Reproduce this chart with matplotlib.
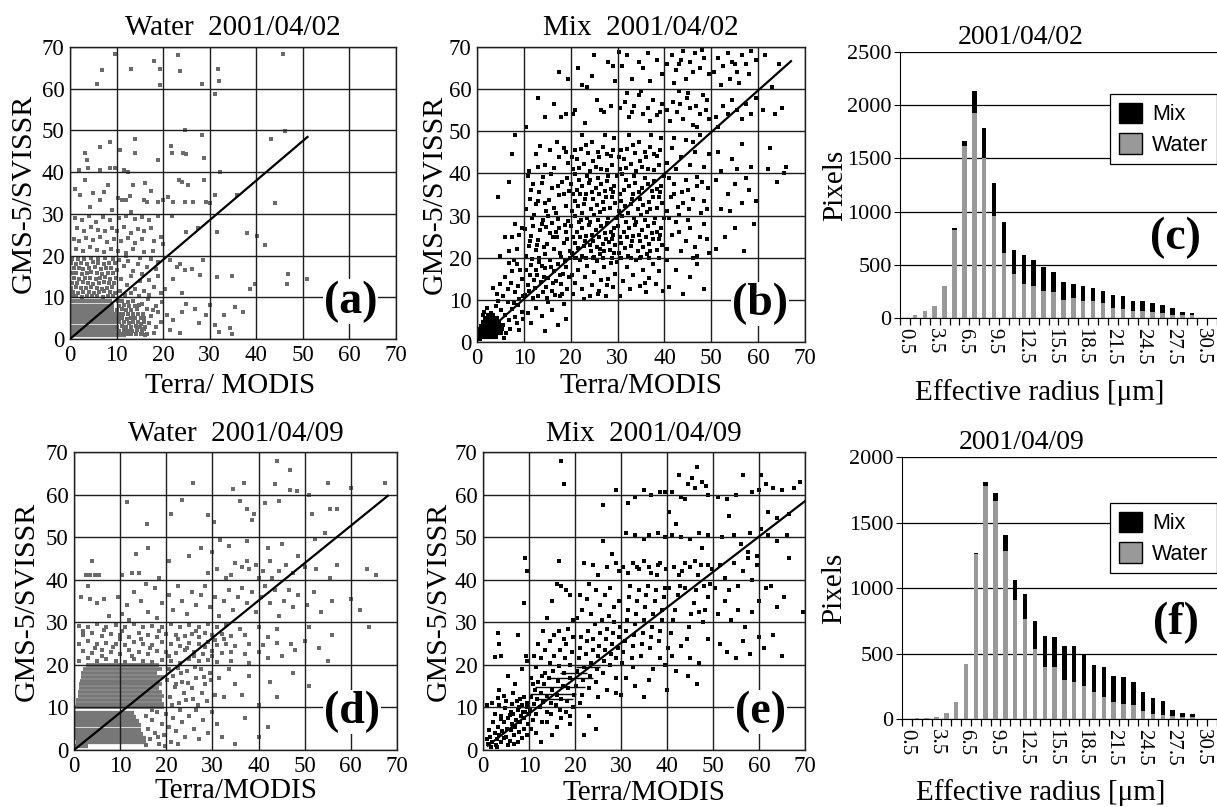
import matplotlib
matplotlib.use('Agg')
import matplotlib.pyplot as plt
import numpy as np
from matplotlib.patches import Patch

plt.rcParams['font.family'] = ['Liberation Serif', 'DejaVu Serif']

# ---------------- histogram data ----------------
radius = ['0.5', '1.5', '2.5', '3.5', '4.5', '5.5', '6.5', '7.5', '8.5', '9.5', '10.5', '11.5',
          '12.5', '13.5', '14.5', '15.5', '16.5', '17.5', '18.5', '19.5', '20.5', '21.5', '22.5',
          '23.5', '24.5', '25.5', '26.5', '27.5', '28.5', '29.5', '30.5', '31.5']
water_c = [0, 25, 63, 110, 300, 830, 1620, 1925, 1505, 958, 615, 410, 323, 305, 255, 245, 166,
           188, 157, 157, 141, 91, 88, 63, 63, 57, 47, 31, 25, 25, 0, 0]
mix_c = [0, 0, 0, 0, 0, 12, 40, 205, 285, 314, 290, 228, 274, 238, 225, 188, 170, 135, 141, 129,
         110, 126, 122, 97, 97, 84, 72, 63, 28, 25, 0, 0]
water_f = [0, 5, 5, 15, 46, 127, 420, 1257, 1781, 1662, 1280, 911, 766, 534, 397, 397, 300, 282,
           254, 206, 168, 127, 115, 107, 59, 41, 33, 20, 15, 15, 0, 0]
mix_f = [0, 0, 0, 0, 0, 0, 0, 10, 31, 63, 127, 147, 191, 212, 234, 229, 260, 278, 242, 206, 229,
         199, 203, 178, 147, 117, 102, 51, 33, 26, 0, 0]

# ---------------- regression lines (slope, intercept, x-start, x-end) ----------------
fit_a = (0.95, 0.0, 0.0, 51.0)
fit_b = (0.99, 0.3, 0.0, 67.0)
fit_d = (0.878, 0.0, 0.0, 68.0)
fit_e = (0.833, 0.17, 1.0, 70.0)

# ---------------- dense rows (y, x-from, x-to) ----------------
a_row_y = [1, 2, 3, 4, 5, 6, 7, 8, 9]
a_row_x0 = [0.2, 0, 0, 0, 0, 0, 0, 0, 0.3]
a_row_x1 = [12.0, 11.0, 10.5, 10.0, 10.0, 10.0, 9.5, 9.5, 9.0]

b_row_y = [1.2, 2.1, 3.0, 3.9, 4.8, 5.7, 6.5]
b_row_x0 = [0.3, 0.2, 0.3, 0.5, 0.8, 1.2, 2.0]
b_row_x1 = [4.5, 5.5, 5.8, 5.6, 5.2, 4.6, 3.8]

d_row_y = [0.9, 1.8, 2.8, 3.8, 4.8, 5.8, 6.8, 7.8, 8.8]
d_row_x0 = [0.2, 0.5, 0, 0, 0, 0, 0, 0, 0.2]
d_row_x1 = [3.0, 15.5, 15.5, 15.0, 14.5, 14.5, 14.0, 13.5, 13.0]
d_band_y = [10.0, 10.9, 11.8, 12.7, 13.6, 14.5, 15.4, 16.3, 17.2, 18.1, 19.0, 19.9]
d_band_x0 = [0.3, 0.5, 0.5, 0.8, 0.8, 1.0, 1.0, 1.2, 1.5, 1.5, 2.0, 2.5]
d_band_x1 = [19.5, 19.5, 19.0, 19.5, 19.0, 18.5, 19.0, 18.5, 19.5, 18.0, 19.0, 18.5]

e_row_y = [12.0, 13.1, 14.8, 16.9, 18.1, 19.4]
e_row_x0 = [11.5, 10.2, 11.2, 14.5, 16.7, 20.3]
e_row_x1 = [19.5, 20.3, 22.1, 23.9, 22.5, 25.4]

# ---------------- scatter points (Terra/MODIS, GMS-5/SVISSR) ----------------
a_pts = [
    (9.7, 68.4), (6.8, 64.4), (5.7, 61.1), (13.2, 64.8), (18.0, 66.6), (19.3, 64.8), (19.3, 60.8),
    (23.1, 68.0), (23.6, 64.2), (28.3, 61.1), (31.7, 64.8), (31.9, 61.9), (31.1, 58.8), (45.7, 68.4),
    (6.4, 46.0), (8.6, 47.2), (14.0, 48.0), (14.0, 44.6), (3.2, 44.6), (3.6, 43.0), (10.7, 45.3),
    (19.0, 43.0), (21.6, 46.2), (21.8, 44.6), (24.3, 44.6), (25.0, 44.4), (28.4, 48.8), (28.8, 43.3),
    (32.2, 40.0), (43.1, 48.0), (46.2, 49.8), (2.0, 40.5), (3.9, 40.9), (6.4, 40.6), (8.6, 40.9),
    (9.7, 40.9), (11.5, 40.5), (12.5, 40.1), (24.8, 50.2),
    (3.2, 38.1), (8.1, 37.0), (2.1, 34.5), (5.0, 34.9), (7.2, 35.3), (6.4, 33.4), (10.4, 33.7),
    (11.1, 33.3), (12.0, 33.3), (4.3, 31.7), (16.1, 37.4), (13.6, 37.0), (15.8, 33.3), (16.5, 32.9),
    (19.0, 32.9), (20.0, 33.3), (21.1, 34.1), (22.2, 32.9), (23.3, 38.1), (24.0, 37.7), (25.4, 36.9),
    (24.7, 32.9), (26.5, 32.9), (28.8, 38.1), (29.3, 32.9), (30.0, 32.5), (31.1, 34.5), (35.8, 34.5),
    (44.0, 32.6), (1.0, 36.0), (9.0, 31.0), (13.0, 30.5), (17.5, 35.5), (12.8, 34.2),
    (1.0, 29.0), (2.5, 28.5), (4.0, 29.5), (5.5, 28.0), (7.0, 29.2), (8.5, 28.5), (10.5, 29.0),
    (12.0, 29.5), (14.0, 28.8), (15.5, 29.3), (17.0, 28.5), (19.0, 29.5),
    (1.5, 26.5), (3.0, 26.0), (4.5, 26.8), (6.0, 26.2), (7.5, 25.8), (9.0, 26.5), (10.0, 26.0),
    (11.5, 26.8), (13.0, 25.5), (14.5, 26.3), (16.0, 25.9), (17.5, 26.6),
    (0.8, 24.0), (2.0, 23.5), (3.5, 24.3), (5.0, 23.8), (6.5, 24.5), (8.0, 23.2), (9.5, 24.0),
    (11.0, 23.6), (12.5, 24.2), (14.0, 23.0), (15.5, 24.0), (18.0, 23.5), (19.5, 24.5),
    (1.2, 21.5), (2.8, 21.0), (4.2, 22.0), (5.8, 21.3), (7.2, 20.8), (8.8, 21.7), (10.3, 21.0),
    (12.0, 20.6), (13.5, 21.5), (16.0, 20.8), (17.8, 21.2),
    (25.0, 25.7), (31.5, 25.7), (37.9, 25.3), (40.1, 24.7), (41.9, 22.5), (20.0, 22.9), (22.0, 29.5),
    (27.5, 26.5),
    (0.5, 19.3), (1.8, 19.3), (3.0, 19.1), (4.6, 19.4), (6.1, 19.2), (7.5, 19.5), (9.2, 19.3),
    (0.3, 18.2), (1.2, 18.0), (2.4, 18.3), (3.6, 18.1), (4.9, 18.4), (6.0, 18.2), (7.3, 18.0),
    (8.4, 18.3), (9.6, 18.2),
    (0.8, 17.0), (1.9, 17.1), (2.9, 16.9), (4.1, 17.0), (5.3, 17.2), (6.6, 16.8), (7.8, 17.0),
    (8.9, 17.1),
    (0.4, 15.8), (1.4, 15.9), (2.6, 15.7), (3.7, 15.8), (4.6, 16.0), (5.8, 15.8), (6.9, 15.6),
    (8.1, 15.9), (9.3, 15.8),
    (0.9, 14.6), (2.0, 14.5), (3.2, 14.7), (4.3, 14.6), (5.5, 14.4), (6.4, 14.6), (7.6, 14.8),
    (8.7, 14.5), (9.8, 14.6),
    (0.5, 13.5), (1.6, 13.4), (2.7, 13.6), (3.9, 13.5), (5.0, 13.3), (6.2, 13.5), (7.3, 13.7),
    (8.4, 13.5), (9.5, 13.4),
    (0.2, 12.3), (1.2, 12.4), (2.3, 12.2), (3.4, 12.3), (4.5, 12.5), (5.7, 12.3), (6.8, 12.1),
    (7.9, 12.3), (9.0, 12.4),
    (0.7, 11.2), (1.8, 11.1), (2.9, 11.3), (4.0, 11.2), (5.2, 11.0), (6.3, 11.2), (7.4, 11.4),
    (8.6, 11.2), (9.7, 11.1),
    (0.4, 10.2), (1.4, 10.3), (2.5, 10.1), (3.6, 10.2), (4.8, 10.4), (5.9, 10.2), (7.0, 10.0),
    (8.2, 10.2), (9.3, 10.3),
    (10.5, 19.0), (11.5, 17.5), (12.5, 18.8), (13.5, 16.2), (14.5, 18.0), (15.5, 15.5), (16.5, 17.2),
    (17.5, 19.2), (18.5, 16.8), (11.0, 14.5), (12.2, 13.0), (13.0, 15.0), (14.0, 12.0), (15.0, 13.8),
    (16.0, 11.5), (17.0, 14.2), (18.0, 12.5), (19.0, 15.0), (10.8, 11.5), (11.8, 10.5), (13.2, 11.0),
    (14.8, 10.3), (19.5, 11.0), (10.2, 16.5), (12.0, 19.8), (15.0, 19.5), (17.0, 10.5), (18.8, 18.5),
    (21.5, 18.9), (23.6, 18.1), (26.1, 16.9), (27.9, 15.3), (22.2, 14.5), (31.5, 14.9), (34.7, 15.1),
    (38.7, 12.1), (39.7, 13.3), (46.9, 15.7), (46.5, 13.3), (50.8, 14.5), (22.9, 17.3), (24.7, 16.5),
    (20.5, 12.0), (24.0, 11.0), (28.5, 19.0),
    (10.3, 9.0), (11.2, 9.1), (12.4, 8.9), (13.6, 9.0),
    (10.6, 8.0), (11.5, 8.1), (12.6, 7.9), (13.9, 8.0), (14.8, 8.1),
    (10.2, 7.0), (11.1, 7.1), (12.0, 6.9), (13.2, 7.0), (14.3, 7.1),
    (10.5, 6.0), (11.4, 6.1), (12.5, 5.9), (13.5, 6.0), (14.6, 6.1), (15.6, 6.0),
    (10.3, 5.0), (11.2, 5.1), (12.2, 4.9), (13.1, 5.0), (14.0, 5.1), (15.2, 5.0),
    (10.6, 4.0), (11.6, 4.1), (12.6, 3.9), (13.6, 4.0), (14.5, 4.1), (15.8, 4.0),
    (10.2, 3.0), (11.1, 3.1), (12.0, 2.9), (13.0, 3.0), (14.1, 3.1), (15.0, 3.0), (16.2, 2.9),
    (10.5, 2.0), (11.5, 2.1), (12.4, 1.9), (13.4, 2.0), (14.4, 2.1), (15.5, 2.0),
    (10.3, 1.2), (11.3, 1.3), (12.3, 1.1), (13.2, 1.2), (14.2, 1.3), (15.3, 1.2), (16.5, 1.1),
    (15.5, 8.5), (16.5, 7.2), (17.5, 5.5), (18.5, 8.0), (19.5, 4.0), (16.0, 2.5), (17.0, 3.8),
    (18.0, 1.5), (19.0, 6.5), (16.8, 9.5), (15.8, 5.0), (17.8, 7.0), (18.5, 2.8), (19.8, 8.8),
    (16.2, 1.0), (15.2, 3.5),
    (20.8, 5.7), (22.2, 4.5), (24.0, 6.5), (25.0, 8.5), (26.8, 7.3), (27.8, 3.8), (29.3, 5.7),
    (30.1, 8.1), (31.1, 3.4), (31.9, 1.8), (33.0, 5.7), (34.4, 2.6), (35.4, 7.7), (37.2, 6.5),
    (34.7, 1.1), (23.6, 1.4), (21.5, 2.2),
]

b_pts = [
    (5.5, 4.0), (6.0, 6.5), (6.8, 5.2), (7.5, 7.8), (5.2, 7.5), (4.0, 8.5), (3.0, 7.0), (8.2, 6.0),
    (8.8, 8.8), (9.5, 7.2), (6.5, 9.5), (2.2, 8.0), (7.0, 3.0), (8.5, 4.5), (9.8, 5.5), (4.5, 9.8),
    (1.5, 7.2), (6.2, 2.2), (9.0, 2.8), (7.8, 9.2), (0.6, 0.8), (1.2, 6.5), (3.5, 6.2), (5.8, 1.0),
    (5.5, 11.0), (6.5, 12.5), (7.2, 14.0), (8.0, 11.8), (8.8, 13.2), (9.5, 15.0), (6.0, 15.5),
    (7.5, 16.8), (8.5, 18.5), (9.2, 17.2), (5.0, 13.8), (4.2, 11.5), (9.8, 11.0), (6.8, 18.8),
    (3.5, 12.8), (7.8, 19.5), (9.0, 10.3),
    (6.0, 25.0), (7.5, 24.8), (8.5, 22.0), (9.5, 27.0), (6.8, 21.5), (9.0, 25.5), (8.0, 28.0),
    (5.0, 20.5), (4.5, 34.5), (6.8, 38.0), (8.0, 49.0), (7.5, 44.5),
    (11.5, 4.5), (12.5, 8.0), (13.8, 6.2), (14.5, 2.5), (16.0, 7.5), (17.2, 4.0), (18.5, 9.0),
    (19.0, 5.5), (15.2, 9.6), (10.8, 7.0),
    (10.3, 11.2), (10.8, 13.5), (11.2, 15.8), (11.6, 18.2), (12.0, 10.5), (12.4, 12.8), (12.8, 16.0),
    (13.2, 19.0), (13.6, 14.2), (14.0, 11.8), (14.4, 17.5), (14.8, 13.0), (15.2, 15.2), (15.6, 19.5),
    (16.0, 12.0), (16.4, 16.8), (16.8, 14.5), (17.2, 18.5), (17.6, 10.8), (18.0, 13.8), (18.4, 16.2),
    (18.8, 19.2), (19.2, 12.5), (19.6, 15.5), (10.5, 17.0), (11.8, 19.8), (13.0, 11.0), (14.2, 15.5),
    (15.8, 17.8), (16.6, 11.2), (17.8, 15.8), (19.0, 17.8), (12.2, 14.8), (18.2, 11.5), (13.8, 18.0),
    (15.0, 10.5), (11.0, 12.0), (16.2, 14.0), (19.8, 19.9), (12.6, 17.2),
    (10.5, 20.5), (11.0, 22.8), (11.5, 25.2), (12.0, 27.5), (12.5, 21.8), (13.0, 24.2), (13.5, 26.5),
    (14.0, 29.0), (14.5, 20.8), (15.0, 23.2), (15.5, 25.8), (16.0, 28.2), (16.5, 22.0), (17.0, 24.8),
    (17.5, 27.0), (18.0, 20.2), (18.5, 23.5), (19.0, 26.0), (19.5, 28.8), (10.2, 26.8), (11.8, 29.5),
    (13.2, 20.0), (14.8, 27.2), (16.2, 25.0), (17.8, 21.2), (19.2, 24.5), (12.8, 23.0), (15.2, 29.8),
    (18.8, 27.8), (11.3, 24.0), (16.8, 26.2), (14.2, 22.5), (19.8, 21.5), (13.8, 28.0), (17.2, 29.2),
    (10.5, 31.5), (11.2, 34.0), (11.9, 37.5), (12.6, 32.8), (13.3, 35.5), (14.0, 39.2), (14.7, 31.0),
    (15.4, 33.8), (16.1, 36.5), (16.8, 30.5), (17.5, 34.8), (18.2, 38.0), (18.9, 32.2), (19.6, 35.8),
    (10.8, 39.5), (12.2, 30.2), (13.8, 37.8), (15.8, 39.8), (17.2, 37.0), (19.2, 39.0), (11.5, 36.0),
    (14.5, 33.0), (16.5, 31.8), (18.5, 35.2), (13.0, 33.5),
    (11.0, 40.5), (12.5, 44.5), (13.5, 46.5), (14.5, 42.0), (15.5, 45.5), (16.5, 41.2), (17.5, 44.0),
    (18.5, 46.0), (19.5, 42.5), (13.0, 41.5), (17.0, 47.5), (19.0, 45.0),
    (13.0, 58.0), (14.5, 53.5), (16.5, 56.5), (18.0, 53.5), (19.5, 62.5), (17.5, 64.0), (10.5, 51.0),
    (19.0, 54.0),
    (20.5, 11.5), (21.0, 14.0), (21.5, 17.0), (22.0, 19.5), (22.5, 12.5), (23.0, 15.5), (23.5, 18.0),
    (24.0, 10.8), (24.5, 13.5), (25.0, 16.5), (25.5, 19.2), (26.0, 12.0), (26.5, 14.8), (27.0, 17.8),
    (27.5, 11.0), (28.0, 15.0), (28.5, 18.8), (29.0, 13.0), (29.5, 16.2), (20.8, 19.9), (22.8, 10.2),
    (24.8, 20.0), (26.8, 19.9), (28.8, 20.0), (21.2, 20.0), (23.2, 20.0), (25.8, 11.5), (27.8, 13.5),
    (29.8, 19.0), (20.2, 16.0),
    (20.3, 21.0), (20.8, 23.5), (21.3, 26.0), (21.8, 28.5), (22.3, 20.5), (22.8, 22.8), (23.3, 25.2),
    (23.8, 27.8), (24.3, 21.5), (24.8, 24.0), (25.3, 26.5), (25.8, 29.0), (26.3, 20.8), (26.8, 23.2),
    (27.3, 25.8), (27.8, 28.2), (28.3, 21.8), (28.8, 24.5), (29.3, 27.0), (29.8, 29.5), (20.5, 25.0),
    (21.5, 22.2), (22.5, 27.0), (23.5, 29.5), (24.5, 25.5), (25.5, 22.5), (26.5, 27.5), (27.5, 24.5),
    (28.5, 26.2), (29.5, 23.0), (21.0, 29.8), (23.0, 24.0), (25.0, 20.2), (27.0, 21.5), (29.0, 25.5),
    (22.0, 25.0), (24.0, 28.5), (26.0, 25.0), (28.0, 29.5), (20.0, 27.5), (22.2, 29.0), (24.2, 23.0),
    (26.2, 22.0), (28.2, 23.8), (29.2, 21.2),
    (20.3, 31.0), (20.8, 33.5), (21.3, 36.0), (21.8, 38.5), (22.3, 30.5), (22.8, 32.8), (23.3, 35.2),
    (23.8, 37.8), (24.3, 31.5), (24.8, 34.0), (25.3, 36.5), (25.8, 39.0), (26.3, 30.8), (26.8, 33.2),
    (27.3, 35.8), (27.8, 38.2), (28.3, 31.8), (28.8, 34.5), (29.3, 37.0), (29.8, 39.5), (20.5, 35.0),
    (21.5, 32.2), (22.5, 37.0), (23.5, 39.5), (24.5, 35.5), (25.5, 32.5), (26.5, 37.5), (27.5, 34.5),
    (28.5, 36.2), (29.5, 33.0), (21.0, 39.8), (23.0, 34.0), (25.0, 30.2), (27.0, 31.5), (29.0, 35.5),
    (22.0, 35.0), (24.0, 38.5), (26.0, 35.0), (28.0, 39.5), (20.0, 37.5),
    (20.5, 41.0), (21.3, 43.5), (22.1, 45.8), (22.9, 42.2), (23.7, 44.8), (24.5, 47.5), (25.3, 41.5),
    (26.1, 43.8), (26.9, 46.2), (27.7, 40.8), (28.5, 44.2), (29.3, 48.5), (20.8, 45.5), (22.5, 49.2),
    (24.0, 40.5), (25.8, 45.0), (27.2, 49.0), (28.8, 42.0), (21.8, 41.2), (23.2, 46.8), (26.5, 41.0),
    (29.0, 45.5), (24.8, 43.0), (27.8, 44.5), (20.2, 44.0),
    (21.0, 55.0), (22.5, 61.0), (23.5, 60.5), (24.5, 63.0), (25.5, 57.5), (26.5, 55.0), (28.0, 66.5),
    (29.0, 65.5), (20.5, 54.0), (23.0, 52.0), (27.0, 54.5), (29.5, 62.0), (21.5, 65.0), (25.0, 68.0),
    (28.5, 56.0),
    (30.5, 11.0), (31.2, 14.5), (31.9, 17.8), (32.6, 12.5), (33.3, 16.0), (34.0, 19.5), (34.7, 13.2),
    (35.4, 17.0), (36.1, 11.8), (36.8, 15.2), (37.5, 18.5), (38.2, 13.8), (38.9, 16.8), (39.6, 12.2),
    (30.8, 19.9), (32.8, 20.0), (34.8, 20.0), (36.8, 19.9), (38.8, 20.0), (35.8, 14.0),
    (30.3, 21.0), (30.8, 23.5), (31.3, 26.0), (31.8, 28.5), (32.3, 20.5), (32.8, 22.8), (33.3, 25.2),
    (33.8, 27.8), (34.3, 21.5), (34.8, 24.0), (35.3, 26.5), (35.8, 29.0), (36.3, 20.8), (36.8, 23.2),
    (37.3, 25.8), (37.8, 28.2), (38.3, 21.8), (38.8, 24.5), (39.3, 27.0), (39.8, 29.5), (30.5, 25.0),
    (31.5, 22.2), (32.5, 27.0), (33.5, 29.5), (34.5, 25.5), (35.5, 22.5), (36.5, 27.5), (37.5, 24.5),
    (38.5, 26.2), (39.5, 23.0), (31.0, 29.8), (33.0, 24.0), (35.0, 20.2), (37.0, 21.5), (39.0, 25.5),
    (32.0, 25.0), (34.0, 28.5), (36.0, 25.0), (38.0, 29.5), (30.0, 27.5),
    (30.3, 31.0), (30.8, 33.5), (31.3, 36.0), (31.8, 38.5), (32.3, 30.5), (32.8, 32.8), (33.3, 35.2),
    (33.8, 37.8), (34.3, 31.5), (34.8, 34.0), (35.3, 36.5), (35.8, 39.0), (36.3, 30.8), (36.8, 33.2),
    (37.3, 35.8), (37.8, 38.2), (38.3, 31.8), (38.8, 34.5), (39.3, 37.0), (39.8, 39.5), (30.5, 35.0),
    (31.5, 32.2), (32.5, 37.0), (33.5, 39.5), (34.5, 35.5), (35.5, 32.5), (36.5, 37.5), (37.5, 34.5),
    (38.5, 36.2), (39.5, 33.0), (31.0, 39.8), (33.0, 34.0), (35.0, 30.2), (37.0, 31.5), (39.0, 35.5),
    (30.5, 41.0), (31.3, 43.5), (32.1, 45.8), (32.9, 42.2), (33.7, 44.8), (34.5, 47.5), (35.3, 41.5),
    (36.1, 43.8), (36.9, 46.2), (37.7, 40.8), (38.5, 44.2), (39.3, 48.5), (30.8, 45.5), (32.5, 49.2),
    (34.0, 40.5), (35.8, 45.0), (37.2, 49.0), (38.8, 42.0), (31.8, 41.2), (33.2, 46.8), (36.5, 41.0),
    (39.0, 45.5), (34.8, 43.0), (37.8, 44.5), (30.2, 44.0),
    (30.5, 55.5), (31.5, 57.0), (32.5, 53.5), (33.5, 56.0), (34.5, 58.5), (35.5, 54.0), (36.5, 55.5),
    (37.5, 57.5), (38.5, 53.8), (39.5, 56.5), (32.0, 59.0), (35.0, 59.5), (37.0, 52.5), (39.0, 54.5),
    (33.0, 54.5),
    (31.0, 65.5), (33.0, 62.5), (34.5, 66.5), (35.5, 65.0), (36.5, 68.5), (37.0, 62.0), (38.5, 67.0),
    (39.5, 63.5), (32.0, 68.0), (30.2, 68.8),
    (41.0, 13.0), (42.5, 17.0), (44.0, 11.5), (45.5, 15.5), (47.0, 18.5), (48.5, 12.5), (40.5, 19.5),
    (46.0, 20.0),
    (40.5, 22.0), (41.5, 25.5), (42.5, 28.5), (43.5, 21.5), (44.5, 24.0), (45.5, 27.0), (46.5, 22.5),
    (47.5, 25.0), (48.5, 28.0), (49.5, 21.0), (41.0, 29.5), (43.0, 26.0), (45.0, 29.0), (47.0, 20.5),
    (49.0, 24.5),
    (40.5, 31.0), (41.3, 34.5), (42.1, 37.5), (42.9, 32.0), (43.7, 35.5), (44.5, 38.5), (45.3, 31.5),
    (46.1, 34.0), (46.9, 37.0), (47.7, 30.5), (48.5, 33.5), (49.3, 36.5), (41.0, 39.0), (43.0, 30.2),
    (45.0, 36.0), (47.0, 39.2), (49.0, 31.5), (44.0, 33.0), (48.0, 38.0), (42.0, 35.0),
    (40.5, 42.5), (41.5, 46.0), (42.5, 41.0), (43.5, 44.0), (44.5, 48.0), (45.5, 42.0), (46.5, 45.0),
    (47.5, 49.0), (48.5, 41.5), (49.5, 44.5), (42.0, 48.5), (46.0, 47.5),
    (40.5, 55.0), (41.2, 52.5), (41.9, 57.0), (42.6, 54.5), (43.3, 56.5), (44.0, 53.0), (44.7, 58.0),
    (45.4, 55.5), (46.1, 51.5), (46.8, 56.0), (47.5, 54.0), (48.2, 58.5), (48.9, 55.0), (49.6, 53.0),
    (43.0, 59.5), (45.0, 59.0), (47.0, 51.0), (49.0, 57.5),
    (40.5, 66.0), (41.5, 68.0), (42.5, 64.5), (43.5, 67.0), (44.5, 62.5), (45.5, 66.5), (46.5, 68.5),
    (47.5, 65.0), (48.5, 67.5), (49.5, 63.5), (42.0, 61.5), (44.0, 69.0), (46.0, 64.0), (48.0, 69.2),
    (43.0, 66.0),
    (51.0, 22.0), (53.0, 25.0), (55.0, 27.0), (57.0, 21.5), (59.0, 28.0), (52.0, 31.5), (53.5, 35.0),
    (55.0, 37.5), (56.5, 33.0), (58.0, 36.0), (51.0, 38.5), (54.0, 31.0), (57.5, 39.0), (59.5, 33.5),
    (52.0, 40.5), (54.5, 43.5), (56.5, 47.0), (58.5, 41.5), (51.5, 45.0), (55.5, 41.0), (51.0, 53.5),
    (52.5, 56.0), (53.5, 54.0), (54.5, 57.5), (55.5, 55.0), (56.5, 53.0), (57.5, 56.5), (58.5, 54.0),
    (59.5, 58.0), (51.5, 51.0), (50.5, 64.0), (51.5, 67.5), (52.5, 65.5), (53.5, 68.5), (54.5, 66.5),
    (55.5, 64.0), (56.5, 68.0), (57.5, 66.0), (58.5, 69.0), (59.5, 67.0), (52.0, 61.0), (54.0, 62.5),
    (56.0, 61.5), (58.0, 63.5), (55.0, 66.0),
    (61.0, 55.0), (63.5, 54.0), (65.0, 55.5), (62.0, 41.0), (64.0, 38.0), (66.0, 41.5), (63.0, 60.5),
    (64.5, 66.0), (61.5, 68.0), (65.5, 40.0), (62.5, 46.0),
]

d_pts = [
    (25.7, 62.8), (44.0, 67.8), (46.9, 65.8), (34.4, 61.3), (36.8, 62.7), (43.6, 62.6), (46.8, 61.0),
    (48.4, 60.8), (51.0, 60.0), (55.0, 62.7), (60.0, 61.5), (67.5, 62.8), (11.5, 58.3), (23.5, 58.8),
    (21.0, 55.5), (29.0, 55.3), (30.3, 53.5), (36.0, 58.5), (37.5, 56.5), (38.5, 54.0), (39.0, 55.5),
    (41.5, 58.0), (44.5, 58.5), (51.5, 55.5), (55.5, 56.5), (57.0, 56.5), (15.8, 53.0), (31.7, 49.3),
    (33.5, 48.0), (37.5, 49.0), (42.0, 47.5), (45.0, 48.5), (48.5, 45.5), (52.3, 49.5), (54.5, 51.0),
    (16.0, 47.5), (13.5, 46.0), (4.0, 44.5), (2.5, 41.2), (3.5, 41.2), (4.5, 41.2), (5.5, 41.0),
    (10.5, 41.0), (12.5, 41.5), (14.0, 41.5), (18.5, 40.5), (20.5, 44.5), (25.0, 45.5), (27.5, 47.5),
    (30.0, 46.5), (35.0, 44.0), (36.5, 43.0), (38.0, 42.5), (39.5, 43.5), (41.0, 42.0), (42.5, 44.5),
    (44.5, 42.0), (46.0, 43.5), (47.5, 41.5), (50.0, 43.0), (52.5, 42.5), (55.5, 40.5), (57.0, 43.5),
    (63.5, 42.5), (65.5, 41.0), (33.0, 40.5), (29.0, 41.5), (31.0, 42.5), (34.0, 41.0), (40.0, 40.5),
    (43.0, 40.5), (37.5, 44.5),
    (1.5, 36.0), (3.5, 35.5), (5.0, 34.5), (6.5, 35.5), (9.5, 36.0), (11.5, 34.0), (13.0, 37.0),
    (14.5, 35.0), (16.0, 32.5), (17.5, 38.0), (19.0, 34.5), (20.5, 36.5), (21.5, 33.0), (22.5, 38.5),
    (23.5, 35.0), (24.5, 32.0), (25.5, 37.0), (26.5, 34.0), (27.5, 36.5), (28.5, 38.5), (29.5, 33.5),
    (30.5, 36.0), (31.5, 31.5), (32.5, 35.0), (33.5, 37.5), (34.5, 33.0), (35.5, 36.0), (36.5, 38.0),
    (37.5, 34.5), (38.5, 37.0), (39.5, 32.5), (40.5, 36.0), (41.5, 38.5), (42.5, 34.5), (43.5, 37.5),
    (44.5, 31.5), (45.5, 35.0), (46.5, 37.5), (47.5, 33.5), (48.5, 36.5), (50.5, 34.0), (52.0, 37.0),
    (53.5, 32.5), (56.0, 35.0), (60.0, 35.5), (62.0, 33.0), (7.5, 31.5), (10.5, 32.0), (12.0, 30.5),
    (18.0, 31.0), (3.0, 38.5), (15.5, 39.0),
    (1.0, 29.2), (3.0, 29.0), (5.0, 29.5), (7.0, 28.8), (9.0, 29.3), (11.0, 29.0), (13.0, 29.5),
    (15.0, 28.8), (17.0, 29.2), (19.0, 29.0), (21.0, 29.5), (23.0, 28.8), (25.0, 29.3), (27.0, 29.0),
    (29.0, 29.5), (31.0, 29.0), (33.0, 29.3), (36.0, 28.5), (40.0, 29.0), (44.0, 28.5), (51.0, 29.0),
    (64.0, 29.0),
    (2.0, 27.0), (4.0, 27.5), (6.0, 26.8), (8.0, 27.3), (10.0, 27.0), (12.0, 26.5), (14.0, 27.5),
    (16.0, 27.0), (18.0, 26.6), (20.0, 27.3), (22.0, 27.0), (24.0, 26.8), (25.5, 27.3), (27.0, 26.5),
    (28.5, 27.5), (30.0, 27.0), (32.0, 27.2), (34.0, 26.8), (37.0, 27.0), (42.0, 26.5), (56.0, 27.0),
    (1.0, 25.0), (3.0, 25.5), (5.0, 24.8), (7.0, 25.2), (9.0, 25.0), (11.0, 24.6), (13.0, 25.4),
    (15.0, 25.0), (17.0, 24.7), (19.0, 25.3), (21.0, 25.0), (23.0, 24.5), (25.0, 25.2), (27.0, 24.8),
    (29.0, 25.3), (31.0, 24.7), (33.0, 25.0), (35.0, 24.5), (38.0, 25.0), (41.0, 24.6), (44.0, 25.2),
    (47.0, 24.8), (50.0, 25.5), (53.0, 24.0),
    (2.0, 23.2), (4.0, 22.8), (6.0, 23.5), (8.0, 23.0), (10.0, 22.6), (12.0, 23.4), (14.0, 23.0),
    (16.0, 22.5), (18.0, 23.3), (20.0, 23.0), (22.0, 22.7), (24.0, 23.5), (26.0, 23.0), (28.0, 22.6),
    (30.0, 23.2), (32.0, 22.8), (34.0, 23.0), (37.0, 22.5), (40.0, 23.0), (45.0, 22.0), (48.0, 23.5),
    (55.0, 21.0),
    (1.0, 21.0), (3.0, 21.5), (5.0, 20.8), (7.0, 21.3), (9.0, 21.0), (11.0, 20.6), (13.0, 21.4),
    (15.0, 21.0), (17.0, 20.7), (19.0, 21.2), (21.0, 21.0), (23.0, 20.5), (25.0, 21.3), (27.0, 20.8),
    (29.0, 21.2), (31.0, 20.6), (34.0, 21.0), (38.0, 20.5), (42.0, 21.5),
    (2.0, 28.0), (6.5, 28.2), (10.5, 28.0), (14.5, 26.0), (18.5, 28.0), (22.5, 26.0), (26.5, 28.0),
    (30.5, 25.8), (4.5, 24.0), (8.5, 24.2), (12.5, 22.0), (16.5, 24.0), (20.5, 22.2), (24.5, 24.0),
    (28.5, 24.2), (32.5, 26.0), (6.0, 22.0), (10.0, 26.0), (26.0, 22.0), (30.0, 22.0),
    (20.5, 19.0), (21.5, 17.5), (22.5, 19.3), (23.5, 16.0), (24.5, 18.5), (25.5, 14.5), (26.5, 17.0),
    (27.5, 19.0), (28.5, 15.5), (29.5, 18.0), (30.5, 13.0), (20.8, 12.5), (21.8, 14.8), (22.8, 11.0),
    (23.8, 13.5), (24.8, 15.8), (25.8, 12.0), (26.8, 10.5), (27.8, 13.5), (28.8, 11.5), (29.8, 16.5),
    (31.5, 17.0), (32.5, 12.5), (33.5, 19.0), (35.0, 15.5), (36.5, 13.0), (38.0, 17.5), (40.0, 10.5),
    (42.5, 16.0), (44.0, 12.5), (47.5, 18.0), (51.0, 15.0), (20.2, 16.5), (22.2, 15.5), (24.2, 11.8),
    (26.2, 19.5), (28.2, 17.2), (21.2, 10.5), (23.2, 18.0),
    (15.5, 8.0), (16.0, 5.0), (16.5, 2.5), (17.0, 7.0), (17.5, 4.0), (18.0, 9.0), (18.5, 1.5),
    (19.0, 6.0), (19.5, 3.5), (20.0, 8.5), (20.5, 5.5), (21.0, 2.0), (21.5, 7.5), (22.0, 4.5),
    (23.0, 9.5), (23.5, 6.5), (24.0, 3.0), (25.0, 8.0), (26.0, 5.0), (27.0, 2.5), (28.0, 7.0),
    (29.0, 4.0), (30.0, 9.0), (31.0, 6.0), (32.0, 3.0), (35.0, 1.5), (37.0, 7.5), (42.0, 5.5),
    (15.5, 1.2), (16.8, 9.5), (18.2, 3.0), (19.8, 1.0), (22.5, 1.5), (26.5, 9.5), (40.0, 3.0),
]

e_pts = [
    (1.0, 1.5), (1.5, 3.0), (2.0, 2.0), (2.5, 4.0), (3.0, 2.5), (3.2, 5.5), (3.5, 3.5), (4.0, 1.8),
    (4.2, 4.5), (4.5, 6.5), (5.0, 3.0), (5.2, 5.0), (5.5, 7.5), (5.8, 2.2), (6.0, 4.8), (6.2, 6.0),
    (6.5, 8.5), (6.8, 3.5), (7.0, 5.5), (7.2, 7.0), (7.5, 9.5), (7.8, 4.2), (8.0, 6.5), (8.2, 8.0),
    (8.5, 10.5), (8.8, 5.0), (9.0, 7.5), (9.2, 9.0), (9.5, 11.0), (9.8, 6.0), (10.0, 8.5), (2.2, 6.5),
    (3.8, 8.0), (4.8, 9.8), (6.3, 10.8), (7.3, 11.5), (1.8, 0.8), (3.0, 0.8), (5.5, 1.2), (7.5, 2.0),
    (8.5, 2.8), (9.5, 3.5), (2.8, 1.2), (4.5, 2.8), (6.8, 1.5), (1.2, 4.8), (0.8, 2.5), (2.5, 8.5),
    (3.5, 10.5), (5.0, 11.5), (8.0, 12.0), (9.0, 12.5), (6.0, 9.0), (7.8, 10.2), (4.0, 7.2),
    (5.8, 8.2), (8.6, 9.0), (9.6, 10.2), (2.0, 11.0), (3.2, 12.2),
    (2.5, 21.8), (3.2, 27.5), (3.5, 25.0), (4.0, 22.0), (7.5, 27.0), (9.3, 22.0), (9.0, 34.5),
    (9.2, 45.0), (9.5, 42.0), (5.5, 17.5), (7.0, 15.5), (8.5, 19.0), (9.5, 21.0), (6.5, 13.5),
    (3.5, 14.0), (4.5, 12.8), (0.9, 10.5),
    (10.2, 9.5), (10.5, 12.5), (10.8, 7.0), (11.0, 10.8), (11.3, 14.0), (11.5, 8.5), (11.8, 12.0),
    (12.0, 16.0), (12.3, 10.0), (12.5, 13.5), (12.8, 6.5), (13.0, 11.2), (13.3, 15.5), (13.5, 18.0),
    (13.8, 9.0), (14.0, 12.8), (14.3, 16.8), (14.5, 20.5), (14.8, 11.0), (15.0, 14.2), (15.3, 18.5),
    (15.5, 22.0), (15.8, 10.5), (16.0, 13.0), (16.3, 16.2), (16.5, 19.8), (16.8, 23.5), (17.0, 12.0),
    (17.3, 15.0), (17.5, 18.2), (17.8, 21.5), (18.0, 25.0), (18.3, 11.5), (18.5, 14.5), (18.8, 17.0),
    (19.0, 20.0), (19.3, 23.0), (19.5, 26.5), (19.8, 13.0), (10.5, 17.0), (11.5, 19.5), (12.5, 21.5),
    (13.5, 23.5), (14.5, 25.5), (15.5, 27.0), (16.5, 28.0), (17.5, 26.0), (18.5, 28.5), (19.5, 30.5),
    (11.0, 22.0), (12.0, 25.0), (13.0, 28.0), (14.0, 31.0), (15.0, 35.0), (16.0, 39.0), (16.5, 44.5),
    (17.0, 38.5), (18.0, 37.5), (19.0, 36.5), (10.5, 5.0), (11.5, 4.0), (12.5, 2.0), (14.0, 6.5),
    (15.0, 3.5), (16.0, 5.5), (17.0, 7.5), (18.0, 9.0), (19.0, 8.0), (19.5, 10.0), (10.8, 15.5),
    (12.8, 17.5), (14.8, 8.5), (16.8, 9.5), (18.8, 6.0), (17.0, 68.0), (17.5, 62.5),
    (20.2, 15.0), (20.5, 18.5), (20.8, 21.5), (21.0, 24.0), (21.3, 26.5), (21.5, 13.0), (21.8, 16.5),
    (22.0, 19.5), (22.3, 22.5), (22.5, 25.5), (22.8, 28.0), (23.0, 14.5), (23.3, 17.5), (23.5, 20.5),
    (23.8, 23.5), (24.0, 26.0), (24.3, 29.5), (24.5, 16.0), (24.8, 19.0), (25.0, 22.0), (25.3, 24.5),
    (25.5, 27.5), (25.8, 30.5), (26.0, 18.0), (26.3, 21.0), (26.5, 23.5), (26.8, 26.0), (27.0, 28.5),
    (27.3, 31.5), (27.5, 20.0), (27.8, 22.5), (28.0, 25.0), (28.3, 27.5), (28.5, 30.0), (28.8, 17.0),
    (29.0, 21.5), (29.3, 24.0), (29.5, 26.5), (29.8, 29.0), (20.5, 31.0), (21.5, 33.0), (22.5, 35.5),
    (23.5, 32.0), (24.5, 37.5), (25.5, 34.0), (26.5, 36.5), (27.5, 38.0), (28.5, 33.5), (29.5, 35.0),
    (21.0, 36.5), (23.0, 39.0), (25.0, 41.0), (27.0, 43.0), (29.0, 44.0), (22.0, 44.0), (24.0, 43.5),
    (26.0, 49.0), (28.0, 46.0), (29.5, 42.0), (21.0, 11.0), (23.0, 8.0), (24.5, 5.0), (22.0, 3.5),
    (25.0, 12.5), (27.0, 14.0), (29.0, 13.5), (26.0, 57.5), (29.0, 61.0), (30.0, 13.0),
    (30.2, 20.5), (30.5, 23.0), (30.8, 25.5), (31.0, 28.0), (31.3, 30.5), (31.5, 33.0), (31.8, 36.0),
    (32.0, 38.5), (32.3, 21.5), (32.5, 24.5), (32.8, 27.0), (33.0, 29.5), (33.3, 32.0), (33.5, 35.0),
    (33.8, 37.5), (34.0, 42.5), (34.3, 22.0), (34.5, 25.0), (34.8, 27.5), (35.0, 30.5), (35.3, 33.5),
    (35.5, 36.5), (35.8, 38.5), (36.0, 43.0), (36.3, 24.0), (36.5, 26.5), (36.8, 29.0), (37.0, 32.0),
    (37.3, 35.0), (37.5, 37.5), (37.8, 41.0), (38.0, 43.5), (38.3, 25.5), (38.5, 28.0), (38.8, 30.5),
    (39.0, 33.0), (39.3, 36.0), (39.5, 38.0), (39.8, 42.5), (30.5, 43.0), (31.5, 41.5), (32.5, 44.0),
    (33.5, 43.0), (35.0, 44.5), (36.5, 41.5), (38.5, 44.0), (31.0, 51.0), (33.0, 50.5), (35.0, 49.5),
    (36.0, 50.5), (38.0, 51.0), (39.5, 50.0), (31.5, 58.0), (33.0, 59.5), (35.0, 61.0), (36.5, 60.0),
    (38.5, 60.5), (39.5, 60.5), (31.0, 17.0), (33.0, 15.0), (35.0, 12.5), (37.0, 19.0), (38.5, 21.5),
    (39.5, 20.0), (32.5, 19.5), (36.0, 16.5), (40.0, 14.0),
    (40.3, 24.0), (40.8, 27.5), (41.3, 30.5), (41.8, 33.0), (42.3, 36.5), (42.8, 38.5), (43.3, 42.0),
    (43.8, 44.0), (44.3, 26.0), (44.8, 29.0), (45.3, 32.0), (45.8, 34.5), (46.3, 37.5), (46.8, 41.0),
    (47.3, 43.5), (47.8, 30.0), (48.3, 33.0), (48.8, 36.0), (49.3, 39.0), (49.8, 42.5), (40.5, 38.0),
    (41.5, 43.0), (42.5, 41.0), (44.0, 38.0), (45.0, 43.0), (46.0, 44.5), (47.0, 32.5), (48.0, 38.5),
    (49.0, 43.5), (41.0, 22.0), (43.0, 24.5), (45.0, 21.5), (47.0, 20.5), (49.0, 26.0), (42.0, 18.5),
    (44.5, 17.5), (46.5, 15.5), (41.0, 50.5), (43.0, 50.0), (45.0, 49.5), (47.0, 51.0), (49.0, 50.5),
    (42.0, 53.0), (40.5, 56.0), (41.0, 60.5), (43.0, 59.5), (44.5, 62.5), (46.0, 61.5), (47.5, 63.0),
    (49.0, 60.0), (42.5, 64.5), (45.5, 64.0), (46.5, 66.5), (48.5, 62.0), (44.0, 59.0),
    (50.5, 38.0), (51.5, 43.5), (52.5, 40.5), (53.5, 37.5), (54.5, 44.0), (55.5, 38.5), (56.5, 42.0),
    (57.5, 45.0), (58.5, 40.0), (59.5, 43.5), (51.0, 32.0), (52.5, 35.0), (54.0, 30.5), (55.5, 33.0),
    (57.0, 29.0), (58.5, 32.5), (60.0, 35.0), (61.5, 38.0), (62.5, 38.5), (64.0, 33.5), (65.5, 36.0),
    (63.0, 27.0), (65.0, 22.0), (61.0, 24.0), (51.5, 25.0), (53.0, 23.0), (55.0, 21.5), (56.5, 25.5),
    (58.0, 22.5), (60.0, 26.5), (52.0, 50.0), (54.5, 50.5), (56.0, 48.5), (58.0, 51.0), (60.5, 52.0),
    (62.0, 50.5), (64.0, 49.0), (66.0, 50.5), (51.0, 59.5), (53.0, 59.0), (55.0, 60.0), (56.5, 64.5),
    (58.5, 60.5), (60.0, 61.0), (61.5, 62.5), (63.0, 61.5), (65.0, 61.0), (67.5, 61.5), (69.0, 63.0),
    (60.5, 64.5), (62.0, 56.0), (64.0, 54.5), (57.5, 46.5), (59.5, 45.5), (66.5, 45.0), (69.5, 32.5),
    (66.5, 55.5), (53.5, 55.0), (47.5, 47.5),
]

GREY_DOT = '#6a6a6a'
GREY_CORE = '#777777'
GRID_C = '#1e1e1e'

fig = plt.figure(figsize=(12.17, 8.07), dpi=100)


def scatter_panel(rect, title, xlabel, pts, color, rowcolor, rows, fit, tag,
                  ylab_x, xlab_y, xlab_x, title_pad):
    ax = fig.add_axes(rect)
    ax.set_xlim(0, 70)
    ax.set_ylim(0, 70)
    ax.set_xticks(range(0, 71, 10))
    ax.set_yticks(range(0, 71, 10))
    for (ry, rx0, rx1, lw) in rows:
        ax.hlines(ry, rx0, rx1, colors=rowcolor, linewidth=lw, zorder=1)
    xs = [p[0] for p in pts]
    ys = [p[1] for p in pts]
    ax.scatter(xs, ys, s=5.5, c=color, marker='s', linewidths=0, zorder=1)
    slope, icpt, x0, x1 = fit
    fx = np.array([x0, x1])
    ax.plot(fx, slope * fx + icpt, color='black', lw=1.6, zorder=3)
    ax.grid(True, color=GRID_C, lw=1.0)
    ax.set_axisbelow(False)
    for s in ax.spines.values():
        s.set_color(GRID_C)
        s.set_linewidth(1.0)
    ax.tick_params(length=0, pad=4)
    ax.tick_params(axis='x', labelsize=16.5)
    ax.tick_params(axis='y', labelsize=16.5)
    ax.set_title(title, fontsize=21, pad=title_pad)
    ax.set_ylabel('GMS-5/SVISSR', fontsize=21.5)
    ax.yaxis.set_label_coords(ylab_x, 0.5)
    ax.set_xlabel(xlabel, fontsize=21)
    ax.xaxis.set_label_coords(xlab_x, xlab_y)
    ax.text(60.3, 9.0, tag, fontsize=33, fontweight='bold', ha='center', va='center',
            zorder=5, bbox=dict(facecolor='white', edgecolor='none', pad=0.5))
    return ax


def hist_panel(rect, title, water, mix, tag, ymax, anchor_y, tag_y, ylab_x):
    ax = fig.add_axes(rect)
    idx = np.arange(len(radius))
    ax.bar(idx, water, width=0.45, color='#999999', zorder=2)
    ax.bar(idx, mix, bottom=water, width=0.45, color='black', zorder=2)
    ax.set_xlim(-0.5, len(radius) - 0.5)
    ax.set_ylim(0, ymax)
    ax.set_yticks(range(0, ymax + 1, 500))
    ax.yaxis.grid(True, color='black', lw=0.9)
    ax.set_axisbelow(True)
    ax.spines['top'].set_visible(False)
    ax.spines['right'].set_visible(False)
    ax.spines['left'].set_color('black')
    ax.spines['bottom'].set_color('black')
    ax.set_xticks(np.append(idx - 0.5, idx[-1] + 0.5))
    ax.set_xticklabels([])
    ax.set_xticks(idx[::3], minor=True)
    ax.set_xticklabels(radius[::3], minor=True, rotation=-90, fontsize=15)
    ax.tick_params(axis='x', which='major', length=5, direction='out', width=0.9)
    ax.tick_params(axis='x', which='minor', length=0, pad=7)
    ax.tick_params(axis='y', length=4, direction='out', labelsize=16, pad=2)
    ax.text(0.38, 1.032, title, transform=ax.transAxes, ha='center', va='baseline', fontsize=20)
    ax.set_ylabel('Pixels', fontsize=21)
    ax.yaxis.set_label_coords(ylab_x, 0.5)
    ax.set_xlabel('Effective radius [μm]', fontsize=21)
    ax.xaxis.set_label_coords(0.44, -0.23)
    ax.text(27.3, tag_y, tag, fontsize=33, fontweight='bold', ha='center', va='center', zorder=5)
    handles = [Patch(facecolor='black', edgecolor='black'),
               Patch(facecolor='#999999', edgecolor='black')]
    leg = ax.legend(handles, ['Mix', 'Water'], loc='upper right', bbox_to_anchor=(1.0, anchor_y),
                    prop={'family': 'Liberation Sans', 'size': 15.5}, frameon=True, fancybox=False,
                    framealpha=1, edgecolor='black', handlelength=1.1, handleheight=1.1,
                    borderpad=0.4, labelspacing=0.35, handletextpad=0.45, borderaxespad=0)
    leg.get_frame().set_linewidth(0.9)
    return ax


scatter_panel([0.0575, 0.5799, 0.2679, 0.3618], 'Water  2001/04/02', 'Terra/ MODIS', a_pts,
              GREY_DOT, GREY_CORE, [(a_row_y, a_row_x0, a_row_x1, 3.1)], fit_a, '(a)',
              -0.101, -0.115, 0.49, 8.5)
scatter_panel([0.3920, 0.5762, 0.2695, 0.3656], 'Mix  2001/04/02', 'Terra/MODIS', b_pts,
              'black', 'black', [(b_row_y, b_row_x0, b_row_x1, 3.0)], fit_b, '(b)',
              -0.088, -0.105, 0.5, 8.5)
scatter_panel([0.0608, 0.0706, 0.2654, 0.3693], 'Water  2001/04/09', 'Terra/MODIS', d_pts,
              GREY_DOT, GREY_CORE,
              [(d_row_y, d_row_x0, d_row_x1, 3.1), (d_band_y, d_band_x0, d_band_x1, 2.7)],
              fit_d, '(d)', -0.105, -0.093, 0.5, 8.0)
scatter_panel([0.3969, 0.0706, 0.2646, 0.3693], 'Mix  2001/04/09', 'Terra/MODIS', e_pts,
              'black', 'black', [(e_row_y, e_row_x0, e_row_x1, 1.0)], fit_e, '(e)',
              -0.096, -0.10, 0.5, 8.0)

hist_panel([0.7395, 0.6059, 0.2605, 0.3296], '2001/04/02', water_c, mix_c, '(c)', 2500, 0.842,
           750, -0.164)
hist_panel([0.7412, 0.1090, 0.2588, 0.3247], '2001/04/09', water_f, mix_f, '(f)', 2000, 0.824,
           733, -0.175)

fig.savefig('out.png', dpi=100)
